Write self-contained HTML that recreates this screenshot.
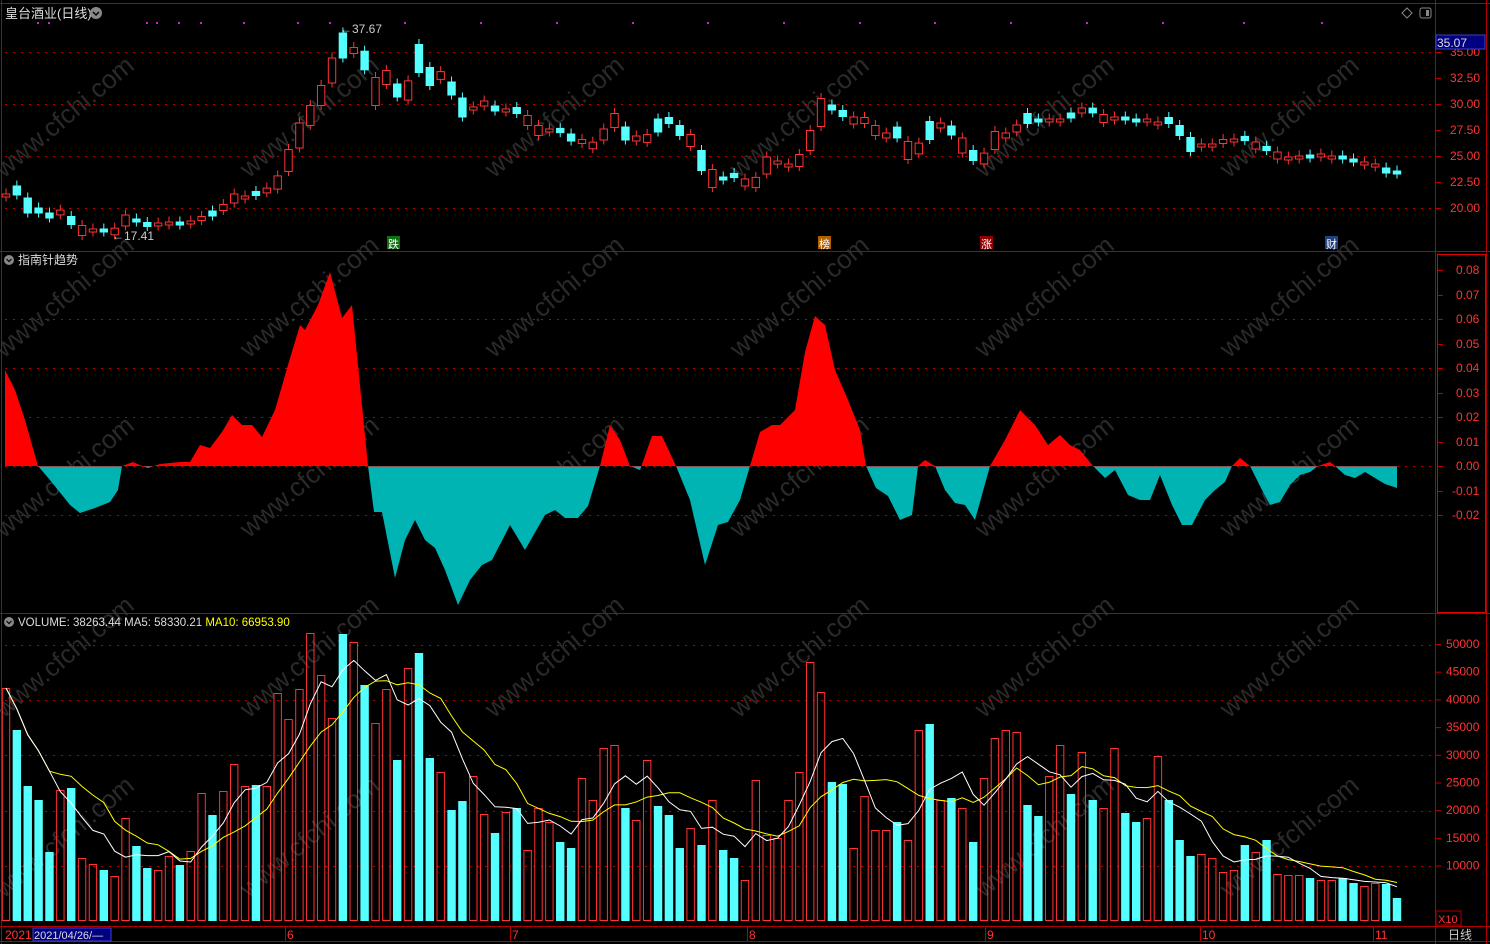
<!DOCTYPE html>
<html><head><meta charset="utf-8">
<style>
html,body{margin:0;padding:0;background:#000;width:1490px;height:944px;overflow:hidden}
svg{display:block}
text{font-family:"Liberation Sans","Noto Sans CJK SC",sans-serif}
</style></head>
<body>
<svg id="s" width="1490" height="944" xmlns="http://www.w3.org/2000/svg">
<rect width="1490" height="944" fill="#000"/>
<g id="wm" fill="#2a2a2a" font-size="26"></g>
<g stroke="#b00000" stroke-width="1" fill="none">
<line x1="1.5" y1="0" x2="1.5" y2="944"/>
<line x1="0" y1="3.5" x2="1490" y2="3.5"/>
<line x1="1435.5" y1="0" x2="1435.5" y2="944"/>
<line x1="1486.5" y1="0" x2="1486.5" y2="944"/>
<line x1="0" y1="251.5" x2="1490" y2="251.5"/>
<line x1="0" y1="613.5" x2="1490" y2="613.5"/>
<line x1="0" y1="926.5" x2="1490" y2="926.5"/>
<line x1="0" y1="941.5" x2="1490" y2="941.5"/>
<rect x="1437.5" y="254.5" width="48" height="358" stroke="#e00000"/>
</g>
<g id="grid" stroke="#c00000" stroke-dasharray="2,6" stroke-width="1"></g>
<g id="ind"></g>
<g id="cand"></g>
<g id="vol"></g>
<g id="axes" fill="#ff3333" font-size="12"></g>
<text x="5" y="18" fill="#ddd" font-size="13">皇台酒业(日线)</text>
<circle cx="96" cy="13" r="6" fill="#888"/><path d="M93 12 L96 15 L99 12" stroke="#000" stroke-width="1.5" fill="none"/>
<g fill="#d020d0">
<rect x="37" y="22" width="2" height="2"/><rect x="48" y="22" width="2" height="2"/><rect x="146" y="22" width="2" height="2"/><rect x="156" y="22" width="2" height="2"/><rect x="178" y="22" width="2" height="2"/><rect x="200" y="22" width="2" height="2"/><rect x="243" y="22" width="2" height="2"/><rect x="297" y="22" width="2" height="2"/><rect x="329" y="22" width="2" height="2"/><rect x="404" y="22" width="2" height="2"/><rect x="480" y="22" width="2" height="2"/><rect x="556" y="22" width="2" height="2"/><rect x="632" y="22" width="2" height="2"/><rect x="707" y="22" width="2" height="2"/><rect x="783" y="22" width="2" height="2"/><rect x="859" y="22" width="2" height="2"/><rect x="934" y="22" width="2" height="2"/><rect x="1010" y="22" width="2" height="2"/><rect x="1086" y="22" width="2" height="2"/><rect x="1162" y="22" width="2" height="2"/><rect x="1243" y="22" width="2" height="2"/><rect x="1321" y="22" width="2" height="2"/>
</g>
<text x="340" y="33" fill="#ccc" font-size="12">←37.67</text>
<text x="112" y="240" fill="#ccc" font-size="12">←17.41</text>
<path d="M1402 13 L1407 8 L1412 13 L1407 18Z" stroke="#888" fill="none"/>
<rect x="1420" y="8" width="11" height="10" rx="2" stroke="#888" fill="none"/><rect x="1426" y="10" width="3" height="6" fill="#888"/>
<rect x="1436" y="35" width="49" height="14" fill="#000080" stroke="#4040c0"/>
<text x="1437" y="47" fill="#ddd" font-size="12">35.07</text>
<rect x="387" y="236" width="13" height="13" fill="#107010"/><text x="388" y="248" fill="#fff" font-size="11">跌</text>
<rect x="818" y="236" width="13" height="13" fill="#b06000"/><text x="819" y="248" fill="#fff" font-size="11">榜</text>
<rect x="980" y="236" width="13" height="13" fill="#900000"/><text x="981" y="248" fill="#fff" font-size="11">涨</text>
<rect x="1325" y="236" width="13" height="13" fill="#204080"/><text x="1326" y="248" fill="#fff" font-size="11">财</text>
<circle cx="9" cy="260" r="5" fill="#888"/><path d="M6.5 259 L9 261.5 L11.5 259" stroke="#000" stroke-width="1.2" fill="none"/>
<text x="18" y="264" fill="#ddd" font-size="12">指南针趋势</text>
<circle cx="9" cy="622" r="5" fill="#888"/><path d="M6.5 621 L9 623.5 L11.5 621" stroke="#000" stroke-width="1.2" fill="none"/>
<text x="18" y="626" font-size="11.5"><tspan fill="#ddd">VOLUME: 38263.44  MA5: 58330.21  </tspan><tspan fill="#ffff00">MA10: 66953.90</tspan></text>
<text x="5" y="939" fill="#ff3333" font-size="12">2021</text>
<rect x="33" y="928" width="78" height="13" fill="#000080" stroke="#4040c0"/>
<text x="34" y="939" fill="#ddd" font-size="11">2021/04/26/—</text>
<g fill="#ff3333" font-size="12"><text x="287" y="939">6</text><text x="512" y="939">7</text><text x="749" y="939">8</text><text x="987" y="939">9</text><text x="1202" y="939">10</text><text x="1375" y="939">11</text></g>
<g stroke="#b00000"><line x1="285.5" y1="927" x2="285.5" y2="941"/><line x1="510.5" y1="927" x2="510.5" y2="941"/><line x1="747.5" y1="927" x2="747.5" y2="941"/><line x1="985.5" y1="927" x2="985.5" y2="941"/><line x1="1200.5" y1="927" x2="1200.5" y2="941"/><line x1="1373.5" y1="927" x2="1373.5" y2="941"/></g>
<text x="1448" y="939" fill="#ccc" font-size="12">日线</text>
<rect x="1436" y="911" width="25" height="14" fill="none" stroke="#b00000"/>
<text x="1438" y="923" fill="#ff3333" font-size="11">X10</text>
</svg>
<script>
(function(){
var NS="http://www.w3.org/2000/svg";
function el(p,t,a,txt){var e=document.createElementNS(NS,t);for(var k in a)e.setAttribute(k,a[k]);if(txt!=null)e.textContent=txt;document.getElementById(p).appendChild(e);return e;}
var wms=[[50,140],[295,140],[540,140],[785,140],[1030,140],[1275,140],[50,320],[295,320],[540,320],[785,320],[1030,320],[1275,320],[50,500],[295,500],[540,500],[785,500],[1030,500],[1275,500],[50,680],[295,680],[540,680],[785,680],[1030,680],[1275,680],[50,860],[295,860],[1030,860],[1275,860]];
wms.forEach(function(w){el("wm","text",{x:w[0]-60,y:w[1],transform:"rotate(-40 "+w[0]+" "+w[1]+")"},"www.cfchi.com");});
[52,104,156,208,319,368,417,466,515,645,700,755,811,866].forEach(function(y){el("grid","line",{x1:5,y1:y+.5,x2:1432,y2:y+.5});});
var pl=[["35.00",52],["32.50",78],["30.00",104],["27.50",130],["25.00",156],["22.50",182],["20.00",208]];
pl.forEach(function(p){el("axes","text",{x:1450,y:p[1]+4},p[0]);el("axes","line",{x1:1436,y1:p[1]+.5,x2:1441,y2:p[1]+.5,stroke:"#c00000"});});
var il=[["0.08",270],["0.07",295],["0.06",319],["0.05",344],["0.04",368],["0.03",393],["0.02",417],["0.01",442],["0.00",466],["-0.01",491],["-0.02",515]];
il.forEach(function(p){el("axes","text",{x:p[0][0]=="-"?1452:1456,y:p[1]+4},p[0]);el("axes","line",{x1:1438,y1:p[1]+.5,x2:1443,y2:p[1]+.5,stroke:"#c00000"});});
var vl=[50000,45000,40000,35000,30000,25000,20000,15000,10000];
vl.forEach(function(v,i){var y=644+i*27.7;el("axes","text",{x:1446,y:y+4},String(v));el("axes","line",{x1:1436,y1:y+.5,x2:1441,y2:y+.5,stroke:"#c00000"});});
var P=[[5,370],[15,390],[25,420],[38,466],[50,480],[70,505],[80,513],[95,508],[110,502],[118,490],[122,466],[133,462],[142,466],[148,468],[160,464],[180,462],[190,462],[200,445],[210,448],[222,432],[232,415],[242,425],[252,425],[262,437],[275,410],[288,365],[300,325],[305,330],[318,305],[330,272],[342,318],[352,305],[368,466],[374,512],[382,512],[395,578],[405,540],[415,520],[425,540],[435,548],[445,570],[458,605],[470,580],[482,565],[492,560],[510,525],[525,550],[545,515],[555,510],[565,518],[578,518],[588,506],[600,466],[610,425],[620,440],[630,466],[640,470],[652,436],[662,436],[676,466],[690,500],[705,565],[718,525],[728,522],[740,500],[750,466],[760,432],[772,425],[780,425],[795,410],[805,352],[815,316],[825,325],[835,370],[848,400],[860,430],[866,466],[876,488],[888,496],[900,520],[912,515],[918,466],[925,460],[935,466],[945,490],[955,503],[965,505],[975,520],[990,466],[1005,440],[1020,410],[1035,425],[1048,445],[1060,435],[1070,445],[1080,450],[1093,466],[1105,478],[1115,470],[1128,495],[1140,500],[1150,500],[1160,475],[1172,505],[1182,525],[1192,525],[1205,500],[1215,490],[1225,482],[1232,466],[1240,458],[1250,466],[1262,490],[1270,505],[1280,502],[1290,485],[1300,475],[1310,472],[1318,466],[1330,462],[1335,466],[1345,475],[1355,478],[1365,472],[1375,478],[1385,484],[1397,488]];
var d="M5 466 ";P.forEach(function(p){d+="L"+p[0]+" "+p[1]+" ";});d+="L1397 466 Z";
var defs=el("ind","defs",{});
var c1=document.createElementNS(NS,"clipPath");c1.id="up";var r1=document.createElementNS(NS,"rect");r1.setAttribute("x",0);r1.setAttribute("y",252);r1.setAttribute("width",1435);r1.setAttribute("height",214.5);c1.appendChild(r1);defs.appendChild(c1);
var c2=document.createElementNS(NS,"clipPath");c2.id="dn";var r2=document.createElementNS(NS,"rect");r2.setAttribute("x",0);r2.setAttribute("y",466.5);r2.setAttribute("width",1435);r2.setAttribute("height",150);c2.appendChild(r2);defs.appendChild(c2);
el("ind","path",{d:d,fill:"#ff0000","clip-path":"url(#up)"});
el("ind","path",{d:d,fill:"#00b4b4","clip-path":"url(#dn)"});
var V=[[688,"r"],[730,"c"],[786,"c"],[800,"c"],[852,"c"],[790,"r"],[788,"c"],[858,"r"],[864,"r"],[870,"c"],[876,"r"],[818,"r"],[846,"c"],[868,"c"],[870,"r"],[856,"r"],[865,"c"],[851,"r"],[793,"r"],[815,"c"],[791,"r"],[764,"r"],[786,"r"],[785,"c"],[786,"r"],[693,"r"],[719,"r"],[689,"r"],[633,"r"],[675,"r"],[718,"r"],[634,"c"],[642,"r"],[685,"c"],[723,"r"],[689,"r"],[760,"c"],[668,"r"],[653,"c"],[758,"c"],[772,"r"],[810,"c"],[801,"c"],[776,"r"],[814,"r"],[833,"c"],
[812,"r"],[808,"c"],[850,"r"],[808,"r"],[822,"r"],[842,"c"],[848,"c"],[778,"r"],[800,"r"],[748,"r"],[745,"r"],[808,"c"],[820,"r"],[760,"r"],[806,"c"],[815,"c"],[848,"c"],[828,"r"],[845,"c"],[800,"r"],[850,"c"],[858,"c"],[880,"r"],[780,"r"],[835,"r"],[838,"r"],[800,"r"],[772,"r"],[662,"r"],[692,"r"],[782,"c"],[784,"c"],[848,"r"],[796,"r"],[830,"r"],[830,"r"],[822,"c"],[840,"r"],[730,"r"],[724,"c"],[800,"r"],[798,"c"],[808,"r"],[842,"c"],[778,"r"],[738,"r"],[730,"r"],[732,"r"],[805,"c"],[816,"c"],[776,"r"],[745,"r"],[794,"c"],[752,"r"],[800,"c"],[808,"r"],[748,"r"],[813,"c"],[822,"c"],[818,"r"],[756,"r"],[800,"c"],[840,"c"],[856,"c"],[854,"r"],[858,"r"],[872,"r"],[870,"r"],[845,"c"],[852,"r"],[840,"c"],[874,"r"],[875,"r"],[875,"r"],[878,"c"],[880,"r"],[880,"r"],[878,"c"],[883,"c"],[886,"r"],[883,"r"],[884,"c"],[898,"c"]];
var N=V.length, sp=(1397-6)/(N-1);
function X(i){return 6+i*sp;}
var base=921;
V.forEach(function(v,i){var x=X(i)-4.2,w=8.4;
 if(v[1]=="c")el("vol","rect",{x:x,y:v[0],width:w,height:base-v[0],fill:"#55ffff"});
 else el("vol","rect",{x:x+.5,y:v[0]+.5,width:w-1,height:base-v[0]-1,fill:"none",stroke:"#ff3333"});
});
function ma(n,col){var pts=[];for(var i=0;i<N;i++){var s=0,c=0;for(var j=Math.max(0,i-n+1);j<=i;j++){s+=base-V[j][0];c++;}pts.push(X(i).toFixed(1)+","+(base-s/c).toFixed(1));}
 el("vol","polyline",{points:pts.join(" "),fill:"none",stroke:col,"stroke-width":1});}
ma(10,"#ffff00");ma(5,"#ffffff");
var C=[195,190,205,210,215,212,220,230,230,230,231,220,220,224,224,223,223,222,218,213,207,198,197,193,190,182,160,135,115,95,70,45,50,60,91,77,90,90,58,76,75,88,107,108,103,108,
110,110,120,130,130,130,137,141,145,134,120,133,138,138,125,120,130,140,160,178,178,175,182,182,165,162,165,160,140,112,107,113,120,120,130,135,132,150,148,130,125,130,145,155,158,140,135,128,118,120,120,120,115,110,110,118,118,118,120,120,123,120,130,144,145,145,141,140,138,145,148,155,158,157,156,155,157,157,160,163,165,170,172,178];
while(C.length<N)C.push(C[C.length-1]);
for(var i=0;i<N;i++){var c=C[i],pc=i?C[i-1]:c,nc=i<N-1?C[i+1]:c;var dy=Math.max(Math.abs(c-pc),Math.abs(nc-c)*0.6);var h=Math.max(3,Math.min(dy,28));var red=V[i][1]=="r";
 var yt=c-h/2,yb=c+h/2;var x=X(i);
 var col=red?"#ff3333":"#55ffff";
 el("cand","line",{x1:x,y1:yt-5,x2:x,y2:yb+5,stroke:col});
 if(red)el("cand","rect",{x:x-3.7,y:yt+.5,width:7.4,height:yb-yt,fill:"#000",stroke:col});
 else el("cand","rect",{x:x-4.2,y:yt,width:8.4,height:yb-yt+1,fill:col});
}
})();
</script>
</body></html>
